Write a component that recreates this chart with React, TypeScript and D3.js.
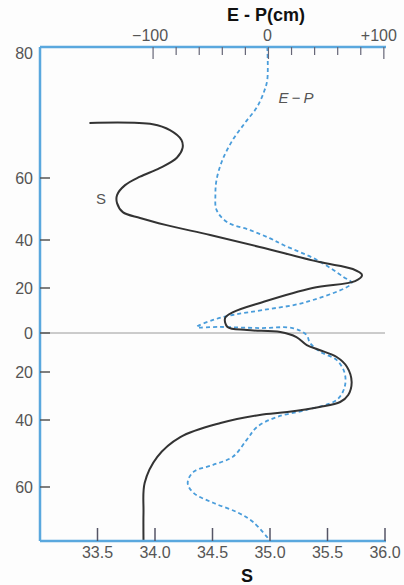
import * as d3 from "d3"

// latitude ticks (N positive, S negative), labels drawn as absolute values
const latTicks = [80, 60, 40, 20, 0, -20, -40, -60]
const latBreaks = [80, 60, 40, 20, 0, -20, -40, -60, -73]

// bottom axis: salinity
const sTicks = [33.5, 34.0, 34.5, 35.0, 35.5, 36.0]
// top axis: E - P (cm)
const epTicks = [-100, -80, -60, -40, -20, 0, 20, 40, 60, 80, 100]
const epLabels = [-100, 0, 100]

// S curve (black)
const sLat = [68.4, 68.2, 67.3, 65.8, 64.6, 63.1, 61.5, 60.2, 57.7, 54.5, 51.9, 49.0, 47.1, 44.8, 41.6, 37.1, 30.8, 27.9, 25.4, 22.9, 20.0, 13.8, 9.3, 6.7, 2.7, 1.3, 0.4, -2.1, -6.2, -8.7, -12.3, -17.4, -24.2, -29.6, -32.5, -34.6, -36.7, -37.9, -40.9, -45.1, -51.0, -58.8, -66.1, -72.8]
const sVal = [33.43, 33.98, 34.13, 34.23, 34.24, 34.19, 34.04, 33.87, 33.74, 33.67, 33.67, 33.72, 33.87, 34.1, 34.48, 34.91, 35.43, 35.72, 35.8, 35.74, 35.37, 34.94, 34.68, 34.61, 34.63, 34.8, 35.09, 35.23, 35.32, 35.43, 35.58, 35.67, 35.71, 35.68, 35.61, 35.43, 35.15, 34.91, 34.57, 34.22, 34.02, 33.91, 33.9, 33.9]

// E - P curve (blue dashed)
const epLat = [80, 75.0, 73.1, 70.8, 68.5, 65.8, 62.7, 59.4, 54.5, 49.7, 45.8, 43.2, 40.6, 37.9, 31.7, 24.6, 22.1, 13.8, 10.2, 8.0, 5.8, 2.7, 2.7, 2.2, 2.2, -1.0, -5.1, -9.7, -13.8, -20.4, -26.3, -31.7, -35.8, -38.8, -42.1, -46.0, -51.0, -53.4, -55.5, -58.8, -61.4, -63.8, -66.1, -68.5, -72.8]
const epVal = [-1, -1, -4, -10, -20, -31, -40, -45, -46, -45, -36, -16, 1, 13, 42, 65, 72, 33, -5, -31, -48, -62, -42, -7, 21, 33, 36, 45, 59, 66, 66, 59, 33, 7, -10, -19, -31, -48, -65, -70, -65, -48, -27, -13, 1]

const W = 404
const H = 585
const left = 40
const right = 385
const top = 47
const bottom = 541

const blue = "#5aa8de"
const tickFont = "'Liberation Sans Narrow', 'Liberation Sans', Arial, sans-serif"

export default function App() {
  const y = d3.scaleLinear().domain(latBreaks).range([top, 178, 240, 288, 333, 372, 420, 487, bottom])
  const xS = d3.scaleLinear().domain([33.0, 36.0]).range([left, right])
  const xEP = d3.scaleLinear().domain([-198, 101]).range([left, right])

  const sLine = d3
    .line<number>()
    .x((d) => xS(sVal[d]))
    .y((d) => y(sLat[d]))
    .curve(d3.curveCatmullRom.alpha(0.5))
  const epLine = d3
    .line<number>()
    .x((d) => xEP(epVal[d]))
    .y((d) => y(epLat[d]))
    .curve(d3.curveCatmullRom.alpha(0.5))

  return (
    <svg width={W} height={H} style={{ position: "absolute", left: 0, top: 0, background: "#fdfdfd" }}>
      {/* title */}
      <text x={266} y={21} textAnchor="middle" fontFamily="Arial, 'Liberation Sans', sans-serif" fontWeight="bold" fontSize={18} fill="#111">
        E - P(cm)
      </text>

      {/* zero latitude line */}
      <line x1={left} x2={right} y1={y(0)} y2={y(0)} stroke="#9a9a9a" strokeWidth={1} />

      {/* curves */}
      <path d={epLine(d3.range(epLat.length)) || ""} fill="none" stroke="#4a9ddb" strokeWidth={1.8} strokeDasharray="4,3" />
      <path d={sLine(d3.range(sLat.length)) || ""} fill="none" stroke="#333" strokeWidth={2} />

      {/* axes lines */}
      <line x1={left} x2={left} y1={top} y2={bottom} stroke={blue} strokeWidth={2.5} />
      <line x1={left} x2={right + 1} y1={top} y2={top} stroke={blue} strokeWidth={2.5} />
      <line x1={left} x2={right + 1} y1={bottom} y2={bottom} stroke={blue} strokeWidth={2.5} />

      {/* left ticks */}
      {latTicks.map((t) => (
        <g key={"lat" + t}>
          {t !== 80 && <line x1={left} x2={left + 10} y1={y(t)} y2={y(t)} stroke="#555" strokeWidth={1.5} />}
          <text x={33} y={y(t) + (t === 80 ? 12 : 6)} textAnchor="end" fontFamily={tickFont} fontSize={16} fill="#555">
            {Math.abs(t)}
          </text>
        </g>
      ))}

      {/* top ticks */}
      {epTicks.map((t) => (
        <line key={"ep" + t} x1={xEP(t)} x2={xEP(t)} y1={top} y2={top + (t % 100 === 0 ? 12 : 8)} stroke="#667" strokeWidth={1.2} />
      ))}
      {epLabels.map((t) => (
        <text key={"epl" + t} x={xEP(t) - (t === 0 ? 1 : t > 0 ? 5 : 3)} y={41} textAnchor="middle" fontFamily={tickFont} fontSize={16} fill="#555">
          {t > 0 ? "+" + t : t < 0 ? "\u2212" + Math.abs(t) : "0"}
        </text>
      ))}

      {/* bottom ticks */}
      {sTicks.map((t) => (
        <g key={"s" + t}>
          <line x1={xS(t)} x2={xS(t)} y1={bottom} y2={bottom - 13} stroke="#556" strokeWidth={1.5} />
          <text x={xS(t)} y={558} textAnchor="middle" fontFamily={tickFont} fontSize={16} fill="#555">
            {t.toFixed(1)}
          </text>
        </g>
      ))}

      {/* curve labels */}
      <text x={101} y={204} textAnchor="middle" fontFamily={tickFont} fontSize={15} fill="#555">
        S
      </text>
      <text x={296} y={103} textAnchor="middle" fontFamily={tickFont} fontStyle="italic" fontSize={15} fill="#555">
        {"E\u2009\u2212\u2009P"}
      </text>

      {/* bottom axis name */}
      <text x={247} y={582} textAnchor="middle" fontFamily="Arial, 'Liberation Sans', sans-serif" fontWeight="bold" fontSize={18} fill="#111">
        S
      </text>
    </svg>
  )
}
